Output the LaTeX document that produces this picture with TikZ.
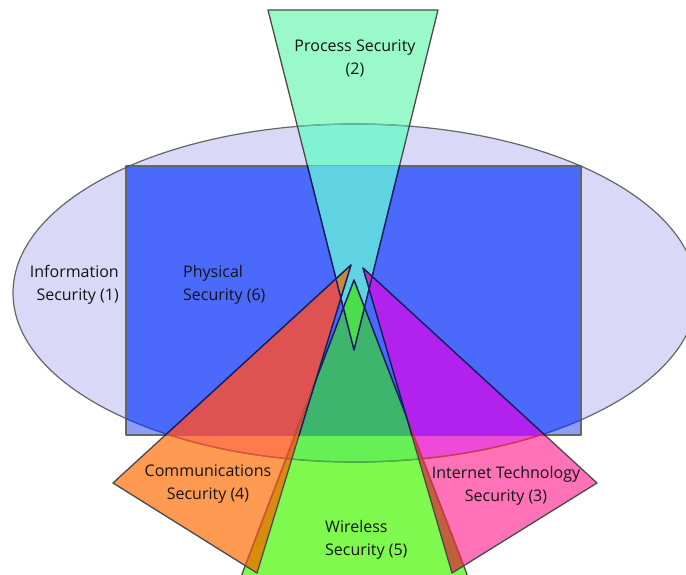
\documentclass[tikz,border=0pt]{standalone}
\usepackage{fontspec}
\setmainfont{Open Sans}
\begin{document}
% region colours
\definecolor{ellFill}{HTML}{D9D9F7}
\definecolor{rectIn}{HTML}{4B69FB}
\definecolor{rectOut}{HTML}{8D9DF3}
\definecolor{procW}{HTML}{99F9C9}
\definecolor{procL}{HTML}{80F4D2}
\definecolor{procB}{HTML}{5FD3E2}
\definecolor{commW}{HTML}{FF9A52}
\definecolor{commL}{HTML}{FF7A4C}
\definecolor{commB}{HTML}{DF5252}
\definecolor{inetW}{HTML}{FF72B8}
\definecolor{inetL}{HTML}{EE4AD8}
\definecolor{inetB}{HTML}{B222EE}
\definecolor{wireW}{HTML}{80F94F}
\definecolor{wireL}{HTML}{66F055}
\definecolor{wireB}{HTML}{3DB56C}
\definecolor{cwW}{HTML}{D88C0C}
\definecolor{cwL}{HTML}{E07018}
\definecolor{cwB}{HTML}{C86A30}
\definecolor{iwW}{HTML}{C0603C}
\definecolor{iwL}{HTML}{C84A50}
\definecolor{iwB}{HTML}{A03C8C}
\definecolor{pwB}{HTML}{4ADE4A}
\definecolor{pcB}{HTML}{C8883C}
\definecolor{piB}{HTML}{B03CB0}
\definecolor{edgeGray}{HTML}{4A4A4A}
\definecolor{edgeNavy}{HTML}{101C6A}
\definecolor{rimGray}{HTML}{666666}
\definecolor{rimBlue}{HTML}{2A46F0}
\definecolor{rimComm}{HTML}{E8502C}
\definecolor{rimInet}{HTML}{E0304C}
\definecolor{rimWire}{HTML}{3CB83C}
\definecolor{rimProc}{HTML}{58C0A0}
\begin{tikzpicture}[x=1pt,y=-1pt,line join=round,
  edge/.style={draw=edgeGray,line width=1.3pt},
  navyedge/.style={draw=edgeNavy,line width=1.3pt},
  rim/.style={draw=rimGray,line width=1.2pt},
  lab/.style={font=\fontsize{16}{23}\selectfont,text=black!92,inner sep=0pt}]
\useasboundingbox (0,0) rectangle (686,575);
\clip (0,0) rectangle (686,575);

% outlines of the shapes
\def\pEll{(355,293) ellipse [x radius=342pt, y radius=169pt]}
\def\pRect{(126,166) rectangle (581,435)}
\def\pProc{(268,10) -- (438,10) -- (354,350) -- cycle}
\def\pComm{(351,265) -- (113,483) -- (257,573) -- cycle}
\def\pInet{(363,268) -- (597,483) -- (452,573) -- cycle}
\def\pWire{(354,280) -- (236,590) -- (473,590) -- cycle}

% Information Security ellipse and Physical Security rectangle
\fill[ellFill] \pEll;
\fill[rectOut] \pRect;
\begin{scope}\clip \pEll; \fill[rectIn] \pRect; \end{scope}
\draw[rim] \pRect;

% each wedge: plain, over the ellipse, over the rectangle
\foreach \p/\c in {\pProc/proc,\pWire/wire,\pComm/comm,\pInet/inet}{
  \fill[\c W] \p;
  \begin{scope}\clip \pEll; \fill[\c L] \p; \end{scope}
  \begin{scope}\clip \pRect; \fill[\c B] \p; \end{scope}
}

% overlaps of wedges
\begin{scope}\clip \pComm; \clip \pWire;
  \fill[cwW] \pWire;
  \begin{scope}\clip \pEll; \fill[cwL] \pWire; \end{scope}
  \begin{scope}\clip \pRect; \fill[cwB] \pWire; \end{scope}
\end{scope}
\begin{scope}\clip \pInet; \clip \pWire;
  \fill[iwW] \pWire;
  \begin{scope}\clip \pEll; \fill[iwL] \pWire; \end{scope}
  \begin{scope}\clip \pRect; \fill[iwB] \pWire; \end{scope}
\end{scope}
\begin{scope}\clip \pProc; \fill[pwB] \pWire; \end{scope}
\begin{scope}\clip \pProc; \fill[pcB] \pComm; \end{scope}
\begin{scope}\clip \pProc; \fill[piB] \pInet; \end{scope}

% rim of the ellipse, tinted where it runs under other shapes
\draw[rim] \pEll;
\begin{scope}\clip \pRect; \draw[draw=rimBlue,line width=1.2pt] \pEll; \end{scope}
\begin{scope}\clip \pProc; \draw[draw=rimProc,line width=1.2pt] \pEll; \end{scope}
\begin{scope}\clip \pWire; \draw[draw=rimWire,line width=1.2pt] \pEll; \end{scope}
\begin{scope}\clip \pComm; \draw[draw=rimComm,line width=1.2pt] \pEll; \end{scope}
\begin{scope}\clip \pInet; \draw[draw=rimInet,line width=1.2pt] \pEll; \end{scope}
% top of the rectangle seen through the process wedge
\begin{scope}\clip \pProc; \draw[draw=rimProc,line width=1pt] (126,166) -- (581,166); \end{scope}

% wedge edges: grey outside the rectangle, navy inside it
\draw[edge] \pProc;
\begin{scope}\clip \pRect; \draw[navyedge] \pProc; \end{scope}
\draw[edge] \pWire;
\begin{scope}\clip \pRect; \draw[navyedge] \pWire; \end{scope}
\begin{scope}\clip \pComm; \draw[draw=rimComm,line width=1.3pt] \pWire; \end{scope}
\begin{scope}\clip \pInet; \draw[draw=rimInet,line width=1.3pt] \pWire; \end{scope}
\draw[edge] \pComm;
\begin{scope}\clip \pRect; \draw[navyedge] \pComm; \end{scope}
\draw[edge] \pInet;
\begin{scope}\clip \pRect; \draw[navyedge] \pInet; \end{scope}

% labels
\node[lab,align=center] (proc) at (355,58) {Process Security\\(2)};
\node[lab,align=right,anchor=east] (info) at (119,285) {Information\\Security (1)};
\node[lab,align=left,anchor=west] (phys) at (183,285) {Physical\\Security (6)};
\node[lab,align=center] (comm) at (208,484) {Communications\\Security (4)};
\node[lab,align=center] (inet) at (506,486) {Internet Technology\\Security (3)};
\node[lab,align=left,anchor=west] (wire) at (325,540) {Wireless\\Security (5)};
\end{tikzpicture}
\end{document}
